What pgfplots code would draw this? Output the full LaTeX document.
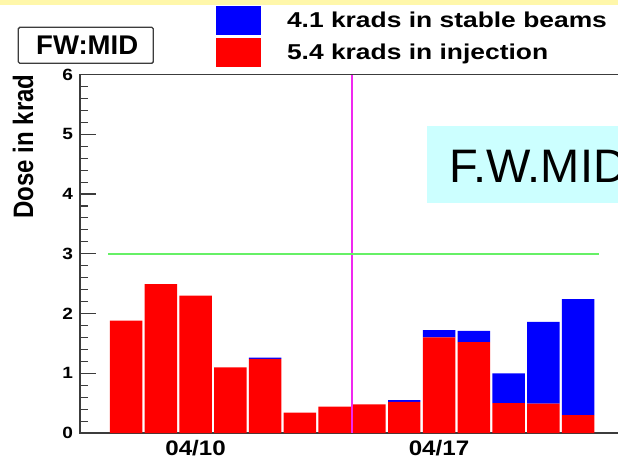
\documentclass[border=0pt]{standalone}
\usepackage{fontspec}
\setmainfont{Liberation Sans}
\usepackage{graphicx}
\usepackage{pgfplots}
\usepackage{pgfplotstable}
\pgfplotsset{compat=1.18}
\definecolor{barred}{RGB}{255,0,0}
\definecolor{barblue}{RGB}{0,0,255}
\definecolor{limitgreen}{RGB}{102,240,102}
\definecolor{markmagenta}{RGB}{240,40,240}
\definecolor{boxcyan}{RGB}{204,255,255}
\definecolor{axisgray}{RGB}{60,60,60}
\definecolor{topyellow}{RGB}{255,247,170}

% daily dose, krad (day of April)
\pgfplotstableread{
day injection stable
8  1.88 0.00
9  2.49 0.00
10 2.30 0.00
11 1.10 0.00
12 1.24 0.02
13 0.34 0.00
14 0.44 0.00
15 0.48 0.00
16 0.52 0.03
17 1.60 0.12
18 1.52 0.19
19 0.50 0.50
20 0.49 1.37
21 0.30 1.94
}\dosetable

\begin{document}
\begin{tikzpicture}
\useasboundingbox (0pt,0pt) rectangle (618pt,460pt);
\clip (0pt,0pt) rectangle (618pt,460pt);
\fill[topyellow] (0pt,455pt) rectangle (618pt,460pt);
\begin{axis}[
  at={(80pt,27pt)}, anchor=south west,
  scale only axis, width=567.7pt, height=358.5pt,
  xmin=6.677, xmax=23, ymin=0, ymax=6,
  ybar stacked, bar width=0.934,
  axis line style={axisgray, line width=1.4pt},
  xtick={10,17}, xticklabels={\scalebox{1.15}[1]{04/10},\scalebox{1.15}[1]{04/17}},
  xtick style={draw=none},
  ytick={0,...,6}, minor y tick num=4, ytick pos=left,
  tick align=inside, major tick length=16pt, minor tick length=8pt,
  ytick style={axisgray, line width=1.1pt},
  minor y tick style={axisgray, line width=1.1pt},
  /pgf/number format/assume math mode=true,
  yticklabel={\scalebox{1.17}[1]{\pgfmathprintnumber{\tick}}},
  yticklabel style={font=\bfseries\fontsize{16.3}{19}\selectfont, inner sep=0pt, xshift=-6.7pt},
  xticklabel style={font=\bfseries\fontsize{21}{24}\selectfont, inner sep=0pt, yshift=-7pt},
  ylabel={\scalebox{1}[1.17]{Dose in krad}},
  ylabel style={at={(axis description cs:-0.1004,0.7992)}, anchor=center,
    font=\bfseries\fontsize{24}{28}\selectfont, inner sep=0pt},
  legend style={at={(0.2396,1.1911)}, anchor=north west, draw=none, fill=none,
    inner sep=0pt, outer sep=0pt, row sep=3.3pt,
    font=\bfseries\fontsize{21.5}{25}\selectfont,
    cells={anchor=base west, inner sep=0pt},
    /tikz/every odd column/.append style={column sep=24pt}},
  reverse legend,
]
\addplot[fill=barred, draw=none,
  legend image code/.code={\fill[barred] (0pt,-7.4pt) rectangle (45pt,21pt);}]
  table[x=day, y=injection]{\dosetable};
\addlegendentry{\scalebox{1.228}[1]{5.4 krads in injection}}
\addplot[fill=barblue, draw=none,
  legend image code/.code={\fill[barblue] (0pt,-7.7pt) rectangle (45pt,21.3pt);}]
  table[x=day, y=stable]{\dosetable};
\addlegendentry{\scalebox{1.228}[1]{4.1 krads in stable beams}}
\addplot[limitgreen, line width=2pt, sharp plot, stack plots=false, forget plot]
  coordinates {(7.49,3) (21.6,3)};
\addplot[markmagenta, line width=1.5pt, sharp plot, stack plots=false, forget plot]
  coordinates {(14.5,0) (14.5,6)};
\end{axis}
% detector tag
\draw[axisgray, line width=1.3pt, fill=white, rounded corners=1.5pt]
  (18.3pt,396.7pt) rectangle (153.3pt,432.7pt);
\node[anchor=base, inner sep=0pt, font=\bfseries\fontsize{27}{31}\selectfont]
  at (87.2pt,405pt) {\scalebox{1.02}[1]{FW:MID}};
% location panel
\fill[boxcyan] (427pt,257.3pt) rectangle (650pt,334pt);
\node[anchor=base west, inner sep=0pt, font=\fontsize{47}{56}\selectfont]
  at (449.3pt,277.3pt) {F.W.MID};
\end{tikzpicture}
\end{document}
